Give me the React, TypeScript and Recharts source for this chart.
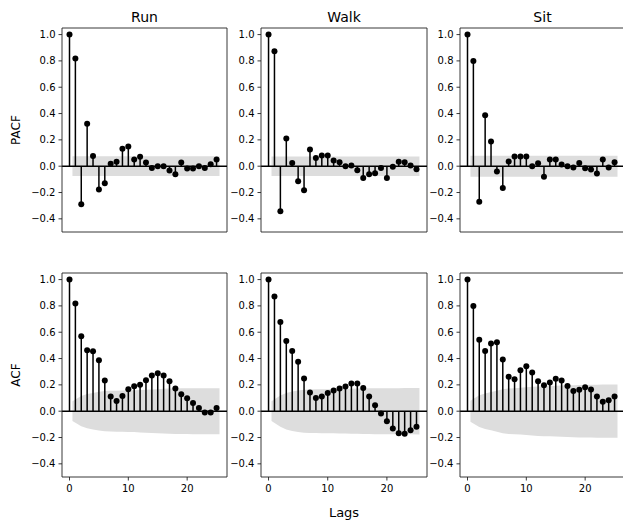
import React from 'react';
import {
  ComposedChart,
  XAxis,
  YAxis,
  Area,
  Scatter,
  ReferenceLine,
} from 'recharts';

// Lags shown on every panel
const lags = [0, 1, 2, 3, 4, 5, 6, 7, 8, 9, 10, 11, 12, 13, 14, 15, 16, 17, 18, 19, 20, 21, 22, 23, 24, 25];

// Positions of the confidence band vertices (lags 1..25, ends widened by half a lag)
const bandLags = [0.5, 2, 3, 4, 5, 6, 7, 8, 9, 10, 11, 12, 13, 14, 15, 16, 17, 18, 19, 20, 21, 22, 23, 24, 25.5];

// Partial autocorrelation per activity
const runPacf = [1.0, 0.818, -0.289, 0.322, 0.078, -0.177, -0.129, 0.018, 0.033, 0.132, 0.149, 0.051, 0.071, 0.028, -0.013, 0.0, 0.0, -0.033, -0.061, 0.028, -0.018, -0.018, 0.0, -0.013, 0.015, 0.051];
const walkPacf = [1.0, 0.873, -0.342, 0.21, 0.025, -0.114, -0.182, 0.127, 0.063, 0.081, 0.081, 0.043, 0.03, 0.0, 0.005, -0.03, -0.089, -0.061, -0.053, -0.013, -0.089, -0.005, 0.033, 0.03, 0.005, -0.023];
const sitPacf = [1.0, 0.8, -0.271, 0.387, 0.187, -0.04, -0.165, 0.035, 0.073, 0.073, 0.073, 0.0, 0.023, -0.081, 0.051, 0.051, 0.013, 0.0, -0.01, 0.025, -0.015, -0.025, -0.056, 0.051, -0.01, 0.03];

// Autocorrelation per activity
const runAcf = [1.0, 0.818, 0.57, 0.463, 0.456, 0.387, 0.233, 0.111, 0.078, 0.116, 0.167, 0.19, 0.2, 0.235, 0.271, 0.289, 0.271, 0.228, 0.172, 0.129, 0.099, 0.063, 0.025, -0.01, -0.01, 0.025];
const walkAcf = [1.0, 0.871, 0.678, 0.534, 0.458, 0.375, 0.248, 0.142, 0.101, 0.111, 0.139, 0.157, 0.172, 0.187, 0.21, 0.21, 0.177, 0.111, 0.046, -0.018, -0.076, -0.132, -0.167, -0.172, -0.144, -0.119];
const sitAcf = [1.0, 0.8, 0.542, 0.458, 0.514, 0.524, 0.392, 0.261, 0.243, 0.311, 0.342, 0.294, 0.228, 0.197, 0.218, 0.246, 0.233, 0.192, 0.154, 0.162, 0.182, 0.165, 0.111, 0.071, 0.084, 0.111];

// Half-widths of the 95% confidence bands
const runPacfConf = 0.075;
const walkPacfConf = 0.074;
const sitPacfConf = 0.08;
const runAcfConf = [0.075, 0.115, 0.13, 0.139, 0.147, 0.153, 0.155, 0.156, 0.157, 0.158, 0.159, 0.161, 0.163, 0.165, 0.167, 0.17, 0.172, 0.173, 0.174, 0.174, 0.175, 0.175, 0.175, 0.175, 0.175];
const walkAcfConf = [0.075, 0.119, 0.139, 0.15, 0.158, 0.163, 0.165, 0.166, 0.167, 0.167, 0.168, 0.169, 0.17, 0.171, 0.172, 0.173, 0.174, 0.175, 0.175, 0.175, 0.175, 0.175, 0.176, 0.176, 0.177];
const sitAcfConf = [0.08, 0.121, 0.135, 0.145, 0.156, 0.167, 0.173, 0.175, 0.178, 0.181, 0.185, 0.188, 0.19, 0.191, 0.193, 0.195, 0.197, 0.198, 0.199, 0.199, 0.2, 0.201, 0.202, 0.202, 0.202];

const titles = ['Run', 'Walk', 'Sit'];
const yTicks = [-0.4, -0.2, 0, 0.2, 0.4, 0.6, 0.8, 1.0];
const xTicks = [0, 10, 20];

const FONT = '"DejaVu Sans", Verdana, sans-serif';
const X_DOMAIN: [number, number] = [-1.275, 26.775];
const Y_DOMAIN: [number, number] = [-0.5, 1.05];

const YW = 45; // room for y tick labels
const MT = 6;
const MR = 4;
const XH = 24;

const fmt = (v: number) => (v < 0 ? '\u2212' : '') + Math.abs(v).toFixed(1);

type PanelProps = {
  left: number;
  top: number;
  width: number;
  height: number;
  values: number[];
  conf: number[];
  showXLabels: boolean;
};

function Dot(props: any) {
  return <circle cx={props.cx} cy={props.cy} r={3} fill="#000" />;
}

const spine = { stroke: '#222', strokeWidth: 0.9 };

function Panel({ left, top, width, height, values, conf, showXLabels }: PanelProps) {
  const bandData = bandLags.map((x, i) => ({ x, band: [-conf[i], conf[i]] }));
  const points = lags.map((x, i) => ({ x, v: values[i] }));
  const tickStyle = { fill: '#000', fontSize: 10, fontFamily: FONT };
  return (
    <div style={{ position: 'absolute', left: left - YW, top: top - MT }}>
      <ComposedChart
        width={YW + width + MR}
        height={MT + height + XH}
        data={bandData}
        margin={{ top: MT, right: MR, left: 0, bottom: 0 }}
      >
        <XAxis
          type="number"
          dataKey="x"
          domain={X_DOMAIN}
          ticks={xTicks}
          allowDataOverflow
          height={XH}
          tickSize={3.5}
          tickMargin={4}
          tick={showXLabels ? tickStyle : false}
          axisLine={spine}
          tickLine={spine}
          interval={0}
        />
        <YAxis
          type="number"
          domain={Y_DOMAIN}
          ticks={yTicks}
          allowDataOverflow
          width={YW}
          tickSize={3.5}
          tickMargin={3}
          tick={tickStyle}
          tickFormatter={fmt}
          axisLine={spine}
          tickLine={spine}
          interval={0}
        />
        <Area
          type="linear"
          dataKey="band"
          stroke="none"
          fill="#dddddd"
          fillOpacity={1}
          dot={false}
          activeDot={false}
          isAnimationActive={false}
        />
        {/* top and right spines of the frame */}
        <ReferenceLine y={Y_DOMAIN[1]} ifOverflow="visible" {...spine} />
        <ReferenceLine x={X_DOMAIN[1]} ifOverflow="visible" {...spine} />
        <ReferenceLine y={0} stroke="#000" strokeWidth={1.5} />
        {points.map((p) => (
          <ReferenceLine
            key={p.x}
            segment={[
              { x: p.x, y: 0 },
              { x: p.x, y: p.v },
            ]}
            stroke="#000"
            strokeWidth={1.5}
          />
        ))}
        <Scatter data={points} dataKey="v" shape={Dot} isAnimationActive={false} />
      </ComposedChart>
    </div>
  );
}

const colLefts = [62, 261, 460];
const colWidths = [165, 166, 165];
const rowTops = [28, 273];
const PH = 204;

export default function App() {
  const pacfRows = [runPacf, walkPacf, sitPacf];
  const pacfConf = [runPacfConf, walkPacfConf, sitPacfConf].map((c) => bandLags.map(() => c));
  const acfRows = [runAcf, walkAcf, sitAcf];
  const acfConf = [runAcfConf, walkAcfConf, sitAcfConf];

  const textBase: React.CSSProperties = {
    position: 'absolute',
    fontFamily: FONT,
    color: '#000',
    whiteSpace: 'nowrap',
    lineHeight: 1,
  };

  return (
    <div
      style={{
        position: 'fixed',
        left: 0,
        top: 0,
        width: 623,
        height: 523,
        overflow: 'hidden',
        background: '#fff',
      }}
    >
      {titles.map((t, i) => (
        <div
          key={t}
          style={{
            ...textBase,
            left: colLefts[i] + colWidths[i] / 2,
            top: 17,
            fontSize: 14,
            transform: 'translate(-50%, -50%)',
          }}
        >
          {t}
        </div>
      ))}
      {[0, 1, 2].map((i) => (
        <Panel
          key={'p' + i}
          left={colLefts[i]}
          top={rowTops[0]}
          width={colWidths[i]}
          height={PH}
          values={pacfRows[i]}
          conf={pacfConf[i]}
          showXLabels={false}
        />
      ))}
      {[0, 1, 2].map((i) => (
        <Panel
          key={'a' + i}
          left={colLefts[i]}
          top={rowTops[1]}
          width={colWidths[i]}
          height={PH}
          values={acfRows[i]}
          conf={acfConf[i]}
          showXLabels={true}
        />
      ))}
      <div
        style={{
          ...textBase,
          left: 16,
          top: rowTops[0] + PH / 2,
          fontSize: 12,
          transform: 'translate(-50%, -50%) rotate(-90deg)',
        }}
      >
        PACF
      </div>
      <div
        style={{
          ...textBase,
          left: 16,
          top: rowTops[1] + PH / 2,
          fontSize: 12,
          transform: 'translate(-50%, -50%) rotate(-90deg)',
        }}
      >
        ACF
      </div>
      <div
        style={{
          ...textBase,
          left: colLefts[1] + colWidths[1] / 2,
          top: 512,
          fontSize: 13,
          transform: 'translate(-50%, -50%)',
        }}
      >
        Lags
      </div>
    </div>
  );
}
